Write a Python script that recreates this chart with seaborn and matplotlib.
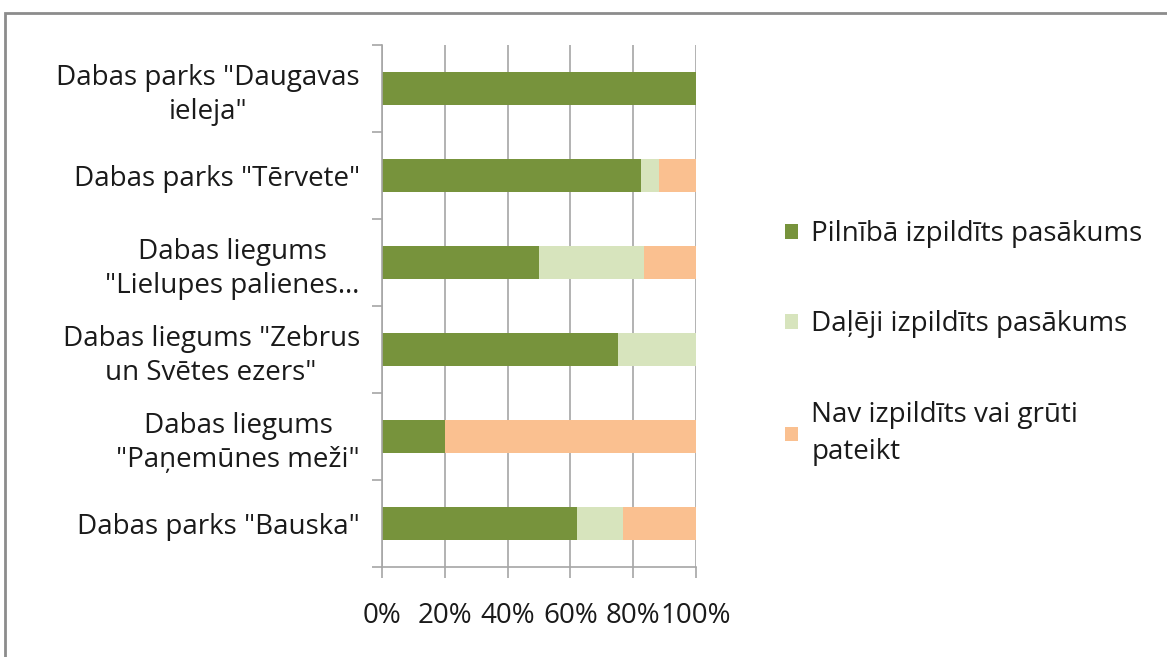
import matplotlib
matplotlib.use("Agg")
import matplotlib.pyplot as plt
import seaborn as sns
import pandas as pd
from matplotlib.patches import Rectangle, Patch
from matplotlib.ticker import FixedLocator

# Data (percent of measures per area)
categories = [
    'Dabas parks "Daugavas\nieleja"',
    'Dabas parks "Tērvete"',
    'Dabas liegums\n"Lielupes palienes…',
    'Dabas liegums "Zebrus\nun Svētes ezers"',
    'Dabas liegums\n"Paņemūnes meži"',
    'Dabas parks "Bauska"',
]
full = [100.0, 82.4, 50.0, 75.0, 20.0, 62.2]
partial = [0.0, 5.9, 33.3, 25.0, 0.0, 14.4]
not_done = [0.0, 11.7, 16.7, 0.0, 80.0, 23.4]

series_names = ["Pilnībā izpildīts pasākums", "Daļēji izpildīts pasākums",
                "Nav izpildīts vai grūti\npateikt"]
colors = ["#77933C", "#D7E4BD", "#FAC090"]
xticks = [0, 20, 40, 60, 80, 100]

df = pd.DataFrame({"area": categories, "full": full, "partial": partial, "none": not_done})
df["cum2"] = df["full"] + df["partial"]
df["cum3"] = df["cum2"] + df["none"]

sns.set_style("white")
plt.rcParams["font.family"] = ["Open Sans", "DejaVu Sans"]

fig = plt.figure(figsize=(11.67, 6.57), dpi=100)
ax = fig.add_axes([382 / 1167, 1 - 567 / 657, (696 - 382) / 1167, (567 - 45) / 657])

# stacked bars drawn as overlapping cumulative layers
for col, c in zip(["cum3", "cum2", "full"], colors[::-1]):
    sns.barplot(data=df, x=col, y="area", order=categories, color=c, saturation=1,
                width=0.39, linewidth=0, ax=ax)

grid_c = "#A6A6A6"
txt_c = "#1a1a1a"
fs = 20
ax.set_xlim(0, 100)
ax.set_ylim(5.5, -0.5)
ax.set_xticks(xticks)
ax.set_xticklabels([f"{t}%" for t in xticks], fontsize=fs, color=txt_c)
ax.set_yticks(range(len(categories)))
ax.set_yticklabels(categories, fontsize=fs, color=txt_c, ha="right",
                   multialignment="center", linespacing=1.3)
ax.yaxis.set_minor_locator(FixedLocator([i - 0.5 for i in range(len(categories) + 1)]))
ax.tick_params(axis="y", which="major", left=True, length=0, pad=16)
ax.tick_params(axis="y", which="minor", left=True, length=7, color=grid_c, width=1.2,
               direction="out")
ax.tick_params(axis="x", bottom=True, length=8, color=grid_c, width=1.2, direction="out",
               pad=17)
ax.set_xlabel("")
ax.set_ylabel("")
ax.xaxis.grid(True, color=grid_c, linewidth=1.2)
ax.set_axisbelow(True)
for s in ["top", "right"]:
    ax.spines[s].set_visible(False)
for s in ["left", "bottom"]:
    ax.spines[s].set_color(grid_c)
    ax.spines[s].set_linewidth(1.2)

handles = [Patch(facecolor=c, edgecolor="none") for c in colors]
fig.legend(handles, series_names, loc="upper left", bbox_to_anchor=(760 / 1167, 1 - 195 / 657),
           frameon=False, fontsize=fs, handlelength=0.45, handleheight=0.45,
           handletextpad=0.5, labelspacing=2.25, labelcolor=txt_c)
for t in fig.legends[0].get_texts():
    t.set_linespacing(1.42)

# outer chart border (partly cut off in the reference)
fig.patches.append(Rectangle((5 / 1167, -0.1), 1.2, 1 - 13 / 657 + 0.1,
                             transform=fig.transFigure, fill=False,
                             edgecolor="#8C8C8C", linewidth=2, clip_on=False))

fig.savefig("out.png", dpi=100)
